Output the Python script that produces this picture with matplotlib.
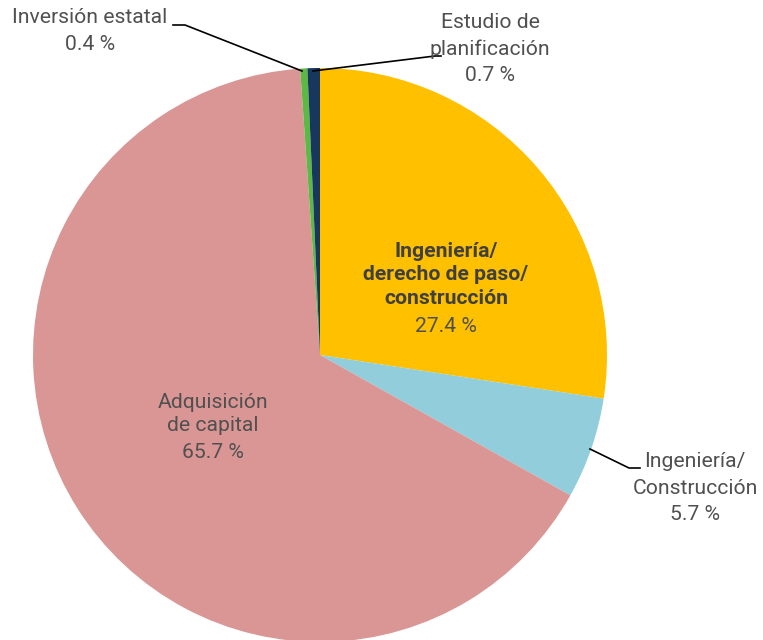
import matplotlib
matplotlib.use("Agg")
from matplotlib import pyplot as plt

# slices, clockwise from 12 o'clock
labels = ["Ingeniería/\nderecho de paso/\nconstrucción",
          "Ingeniería/\nConstrucción",
          "Adquisición\nde capital",
          "Inversión estatal",
          "Estudio de\nplanificación"]
values = [27.4, 5.7, 65.7, 0.4, 0.7]
colors = ["#FFC000", "#92CDDC", "#D99694", "#5BB944", "#17375E"]

plt.rcParams['font.family'] = ['Roboto', 'DejaVu Sans']
txt = "#505050"
fs = 15.2
ls = 1.5

W, H = 763, 640
fig = plt.figure(figsize=(W / 100, H / 100), dpi=100)
ax = fig.add_axes([0, 0, 1, 1])

# pie in pixel coords; y axis inverted so flip the drawing direction
ax.pie(values, colors=colors, center=(320, 355), radius=287,
       startangle=-90, counterclock=True, frame=True,
       wedgeprops=dict(linewidth=0))
ax.set_xlim(0, W)
ax.set_ylim(H, 0)
ax.set_aspect('equal')
ax.axis('off')

def pct(v):
    return f"{v} %"

# inside labels
ax.text(446, 275, labels[0], ha='center', va='center', fontsize=fs,
        fontweight='bold', color="#404040", linespacing=1.32)
ax.text(446, 327, pct(values[0]), ha='center', va='center', fontsize=fs, color=txt)
ax.text(213, 414, labels[2], ha='center', va='center', fontsize=fs,
        color=txt, linespacing=1.32)
ax.text(213, 452, pct(values[2]), ha='center', va='center', fontsize=fs, color=txt)

# outside labels with leader lines
ax.text(90, 31, labels[3] + "\n" + pct(values[3]), ha='center', va='center',
        fontsize=fs, color=txt, linespacing=ls)
ax.plot([302, 185, 173], [71, 25, 25], color='black', lw=1.2)

ax.text(490, 49, labels[4] + "\n" + pct(values[4]), ha='center', va='center',
        fontsize=fs, color=txt, linespacing=ls)
ax.plot([313, 435, 441], [71, 56, 56], color='black', lw=1.2)

ax.text(695, 488, labels[1] + "\n" + pct(values[1]), ha='center', va='center',
        fontsize=fs, color=txt, linespacing=ls)
ax.plot([590, 629, 640], [449, 468, 468], color='black', lw=1.2)

fig.savefig("out.png", dpi=100)
